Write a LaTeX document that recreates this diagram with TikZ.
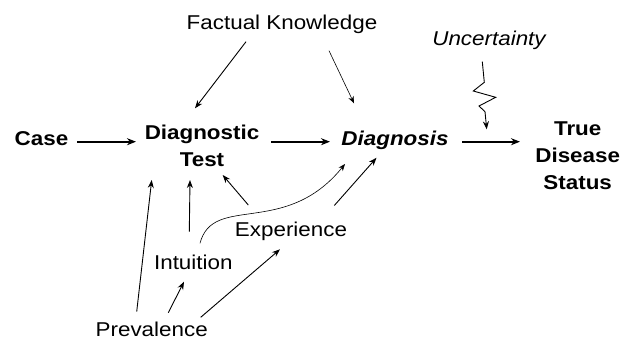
\documentclass[tikz,border=0pt]{standalone}
\usepackage{fontspec}
\setmainfont{Liberation Sans}[FakeStretch=1.12]
\usetikzlibrary{arrows.meta,calc}
\begin{document}
\begin{tikzpicture}[x=1pt,y=-1pt,
  lbl/.style={inner sep=0pt, anchor=base, font=\fontsize{20}{27}\selectfont},
  blbl/.style={lbl, font=\fontsize{20}{27}\selectfont\bfseries},
  thick arrow/.style={line width=1.9pt, -{Stealth[length=9pt,width=7pt]}},
  norm arrow/.style={line width=0.9pt, -{Stealth[length=8pt,width=6pt]}},
  thin arrow/.style={line width=0.6pt, -{Stealth[length=7pt,width=5.5pt]}}]
\useasboundingbox (0,0) rectangle (631,341);
% multi-line nodes: base anchor = baseline of the last line
\node[blbl] (case) at (41.5,145.7) {Case};
\node[blbl, align=center] (dt) at (202,166.7) {Diagnostic\\Test};
\node[blbl, font=\fontsize{20}{27}\selectfont\bfseries\itshape] (dx) at (395,145) {Diagnosis};
\node[blbl, align=center] (tds) at (577.7,189.3) {True\\Disease\\Status};
\node[lbl] (fk) at (282,29.3) {Factual Knowledge};
\node[lbl, font=\fontsize{20}{27}\selectfont\itshape] (unc) at (489,45) {Uncertainty};
\node[lbl] (exp) at (291,236) {Experience};
\node[lbl] (int) at (193.3,269) {Intuition};
\node[lbl] (prev) at (151.7,336.7) {Prevalence};
\coordinate (zz) at (486.7,129.3);
% main chain
\draw[thick arrow] ($(case.base)+(35.5,-4)$) -- ($(dt.base)+(-66,-25)$);
\draw[thick arrow] ($(dt.base)+(69,-25)$) -- ($(dx.base)+(-65,-3.3)$);
\draw[thick arrow] ($(dx.base)+(67,-3.3)$) -- ($(tds.base)+(-57.7,-47.6)$);
% factual knowledge
\draw[norm arrow] ($(fk.base)+(-36,12.4)$) -- ($(dt.base)+(-7,-58.4)$);
\draw[thin arrow] ($(fk.base)+(47,21.4)$) -- ($(dx.base)+(-41,-41.7)$);
% uncertainty zigzag
\draw[norm arrow, line join=miter] ($(unc.base)+(-6.7,16.7)$) -- ++(2,20.6) -- ++(-11,8.7) -- ++(22.4,6.3) -- ++(-16.7,8.7) -- ++(6,5.7) -- (zz);
% lower influences
\draw[norm arrow] ($(prev.base)+(-15,-25)$) -- ($(dt.base)+(-50.3,13.3)$);
\draw[norm arrow] ($(int.base)+(-4,-37.3)$) -- ($(dt.base)+(-12,13.3)$);
\draw[norm arrow] ($(prev.base)+(16.6,-24)$) -- ($(int.base)+(-9.3,12.7)$);
\draw[norm arrow] ($(prev.base)+(49,-19.4)$) -- ($(exp.base)+(-11,13.3)$);
\draw[norm arrow] ($(exp.base)+(-42.7,-31)$) -- ($(dt.base)+(20.7,8.3)$);
\draw[norm arrow] ($(exp.base)+(43.3,-30.5)$) -- ($(dx.base)+(-18.5,12.8)$);
\draw[thin arrow] ($(int.base)+(6.7,-25.7)$) .. controls +(13,-50) and +(-60,74) .. ($(dx.base)+(-50,19)$);
\end{tikzpicture}
\end{document}
